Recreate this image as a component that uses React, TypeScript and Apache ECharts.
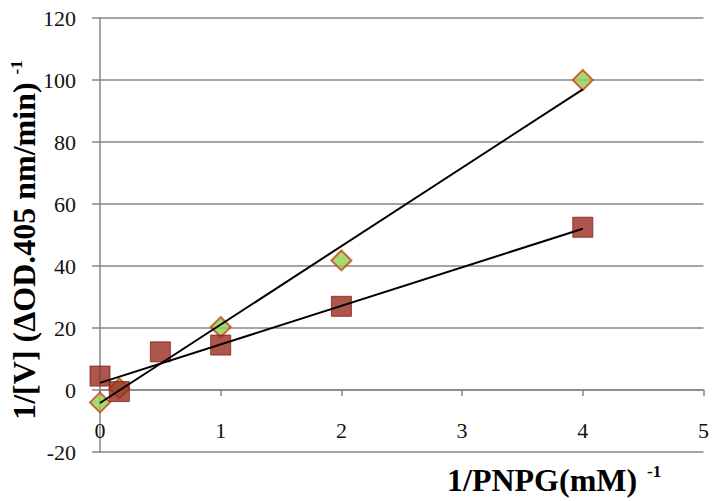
import React, { useEffect, useRef } from "react";
import * as echarts from "echarts";

// Squares (dark red)
const squareX = [0, 0.16, 0.5, 1, 2, 4];
const squareY = [4.5, -0.5, 12.3, 14.5, 27, 52.5];
// Diamonds (green)
const diamondX = [0, 0.16, 1, 2, 4];
const diamondY = [-4, 0.5, 20.3, 41.8, 100];
// Trend lines (endpoints)
const squareTrendX = [0, 4];
const squareTrendY = [2.3, 52];
const diamondTrendX = [0, 4];
const diamondTrendY = [-4.2, 97];

const yTicks = [-20, 0, 20, 40, 60, 80, 100, 120];
const xTicks = [0, 1, 2, 3, 4, 5];

const xTitle = "1/PNPG(mM)";
const yTitle = "1/[V] (ΔOD.405 nm/min)";
const sup = "-1";

const zip = (xs: number[], ys: number[]) => xs.map((x, i) => [x, ys[i]]);

const FONT = '"Liberation Serif", "Times New Roman", serif';
const GRID = "#868686";

export default function App() {
  const ref = useRef<HTMLDivElement>(null);
  useEffect(() => {
    if (!ref.current) return;
    const chart = echarts.init(ref.current, null, { renderer: "svg" });
    chart.setOption({
      animation: false,
      backgroundColor: "#ffffff",
      grid: { left: 100, right: 7, top: 18, bottom: 49, containLabel: false },
      xAxis: {
        type: "value",
        min: xTicks[0],
        max: xTicks[xTicks.length - 1],
        interval: 1,
        offset: -62,
        axisLine: { onZero: false, lineStyle: { color: GRID, width: 1.5 } },
        axisTick: { show: true, length: 6, lineStyle: { color: GRID, width: 1.5 } },
        axisLabel: { margin: 29, fontFamily: FONT, fontSize: 22, color: "#111" },
        splitLine: { show: false },
      },
      yAxis: {
        type: "value",
        min: yTicks[0],
        max: yTicks[yTicks.length - 1],
        interval: 20,
        axisLine: { show: true, onZero: false, lineStyle: { color: GRID, width: 1.5 } },
        axisTick: { show: true, length: 8, lineStyle: { color: GRID, width: 1.5 } },
        axisLabel: { margin: 24, fontFamily: FONT, fontSize: 22, color: "#111" },
        splitLine: { show: true, lineStyle: { color: GRID, width: 1.5 } },
      },
      graphic: [
        {
          type: "text",
          left: 447,
          top: 482 - 18,
          style: { text: xTitle, font: `bold 32px ${FONT}`, fill: "#000" },
        },
        {
          type: "text",
          left: 647,
          top: 473 - 10,
          style: { text: sup, font: `bold 17px ${FONT}`, fill: "#000" },
        },
        {
          type: "text",
          x: 24,
          y: 240,
          rotation: Math.PI / 2,
          style: {
            text: `{t|${yTitle} }{s|${sup}}`,
            align: "center",
            verticalAlign: "middle",
            fill: "#000",
            rich: {
              t: { fontFamily: FONT, fontWeight: "bold", fontSize: 32, fill: "#000" },
              s: {
                fontFamily: FONT,
                fontWeight: "bold",
                fontSize: 17,
                fill: "#000",
                verticalAlign: "top",
              },
            },
          },
        },
      ],
      series: [
        {
          type: "scatter",
          data: zip(diamondX, diamondY),
          symbol: "diamond",
          symbolSize: 20,
          itemStyle: { color: "#92D050", borderColor: "#C4461A", borderWidth: 2 },
          z: 2,
        },
        {
          type: "scatter",
          data: zip(squareX, squareY),
          symbol: "rect",
          symbolSize: 20,
          itemStyle: { color: "#9A2B1F", borderColor: "#7E2218", borderWidth: 1 },
          z: 3,
        },
        {
          type: "line",
          data: zip(squareTrendX, squareTrendY),
          symbol: "none",
          lineStyle: { color: "#000", width: 2 },
          z: 4,
        },
        {
          type: "line",
          data: zip(diamondTrendX, diamondTrendY),
          symbol: "none",
          lineStyle: { color: "#000", width: 2 },
          z: 4,
        },
      ],
    });
    return () => chart.dispose();
  }, []);
  return (
    <div
      ref={ref}
      style={{ position: "fixed", left: 0, top: 0, width: 712, height: 501 }}
    />
  );
}
